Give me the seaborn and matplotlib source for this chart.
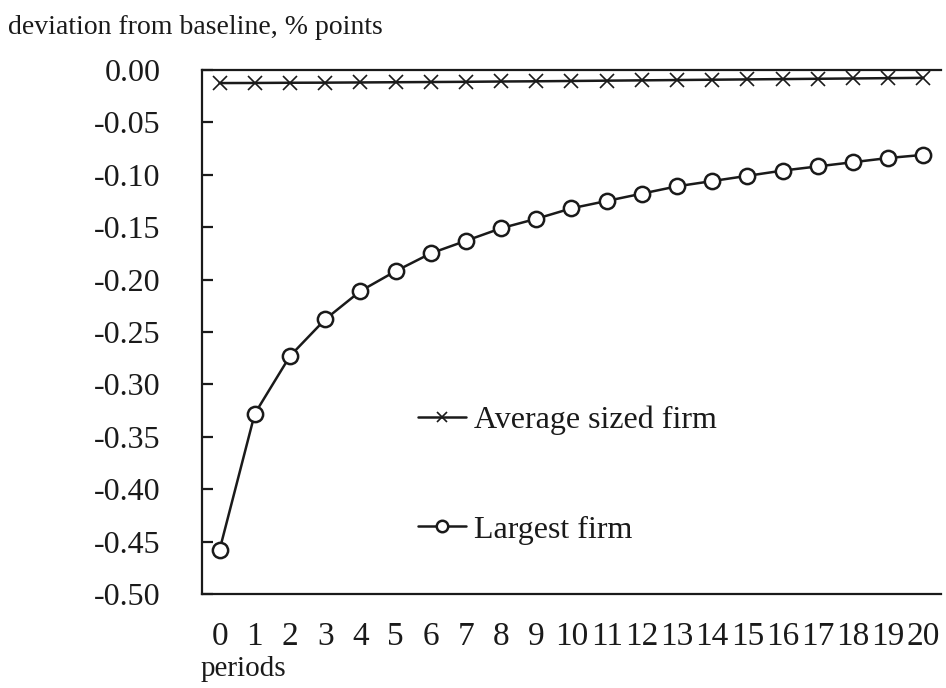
import matplotlib
matplotlib.use("Agg")
import matplotlib.pyplot as plt
import seaborn as sns
import pandas as pd

# Simulated response over time, deviation from baseline in percentage points
periods = list(range(21))
tick_labels_x = [str(p) for p in periods]
average_firm = [-0.0125, -0.0124, -0.0122, -0.0121, -0.0119, -0.0117, -0.0115,
                -0.0113, -0.0110, -0.0108, -0.0105, -0.0102, -0.0099, -0.0096,
                -0.0093, -0.0090, -0.0087, -0.0084, -0.0081, -0.0078, -0.0075]
largest_firm = [-0.458, -0.328, -0.273, -0.238, -0.211, -0.192, -0.175,
                -0.163, -0.151, -0.142, -0.132, -0.125, -0.118, -0.111,
                -0.106, -0.101, -0.096, -0.092, -0.088, -0.084, -0.081]
series_names = ["Average sized firm", "Largest firm"]
y_ticks = [0.00, -0.05, -0.10, -0.15, -0.20, -0.25, -0.30, -0.35, -0.40, -0.45, -0.50]

df = pd.DataFrame({"period": periods, series_names[0]: average_firm,
                   series_names[1]: largest_firm})

sns.set_theme(style="white")
plt.rcParams["font.family"] = ["Liberation Serif", "DejaVu Serif"]
plt.rcParams["axes.unicode_minus"] = False

ink = "#1a1a1a"
fig = plt.figure(figsize=(9.46, 6.88), dpi=100)
ax = fig.add_axes([0.2135, 0.1366, 0.7812, 0.7617])

sns.lineplot(data=df, x="period", y=series_names[0], ax=ax, color=ink,
             linewidth=1.8, marker="x", markersize=10.5, markeredgewidth=1.2,
             markeredgecolor=ink, label=series_names[0])
sns.lineplot(data=df, x="period", y=series_names[1], ax=ax, color=ink,
             linewidth=1.8, marker="o", markersize=11, markeredgewidth=1.8,
             markerfacecolor="white", markeredgecolor=ink,
             label=series_names[1])

ax.set_xlim(-0.5, 20.5)
ax.set_ylim(-0.50, 0.0)
ax.set_xticks(periods)
ax.set_xticklabels(tick_labels_x)
ax.set_yticks(y_ticks)
ax.set_yticklabels([f"{v:.2f}" for v in y_ticks])
ax.set_xlabel("")
ax.set_ylabel("")

for side in ["left", "top", "bottom"]:
    ax.spines[side].set_visible(True)
    ax.spines[side].set_color(ink)
    ax.spines[side].set_linewidth(1.6)
ax.spines["right"].set_visible(False)

ax.tick_params(axis="y", direction="in", length=8, width=1.6, color=ink,
               labelsize=23, pad=30, labelcolor=ink, left=True)
ax.tick_params(axis="x", length=0, labelsize=24, pad=20, labelcolor=ink)

leg = ax.legend(loc="upper left", bbox_to_anchor=(0.292, 0.359), frameon=False,
                handlelength=1.5, handletextpad=0.25, labelspacing=2.5,
                borderaxespad=0, borderpad=0, fontsize=23, markerscale=0.75)
for t in leg.get_texts():
    t.set_color(ink)

fig.text(0.008, 0.978, "deviation from baseline, % points", fontsize=20,
         color=ink, ha="left", va="top")
fig.text(0.212, 0.008, "periods", fontsize=21, color=ink,
         ha="left", va="bottom")

fig.savefig("out.png", dpi=100, facecolor="white")
